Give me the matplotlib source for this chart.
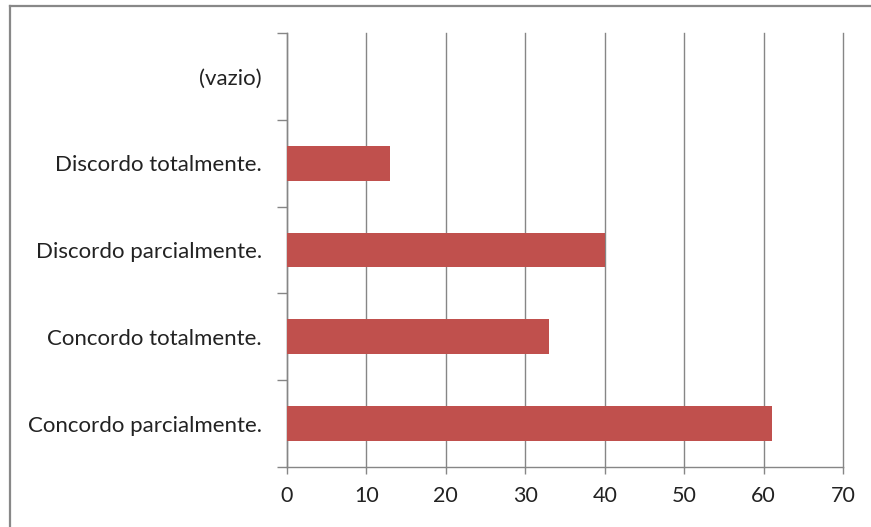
import matplotlib.pyplot as plt
from matplotlib.lines import Line2D

# data
categories = ["Concordo parcialmente.", "Concordo totalmente.",
              "Discordo parcialmente.", "Discordo totalmente.", "(vazio)"]
values = [61, 33, 40, 13, 0]
xticks = [0, 10, 20, 30, 40, 50, 60, 70]

plt.rcParams['font.family'] = ['Lato', 'DejaVu Sans']

fig = plt.figure(figsize=(8.71, 5.27), dpi=100)
ax = fig.add_axes([287 / 871, 1 - 467 / 527, (843 - 287) / 871, (467 - 33) / 527])

pos = list(range(len(categories)))
ax.barh(pos, values, height=0.4, color='#C0504D', zorder=3)

ax.set_xlim(0, 70)
ax.set_ylim(-0.5, len(categories) - 0.5)
ax.set_xticks(xticks)
ax.set_xticklabels([str(t) for t in xticks], fontsize=15.5, color='#222222')
ax.set_yticks(pos)
ax.set_yticklabels(categories, fontsize=16, color='#222222')
ax.set_yticks([p - 0.5 for p in pos] + [len(categories) - 0.5], minor=True)

ax.tick_params(axis='y', which='major', length=0, pad=18)
ax.tick_params(axis='y', which='minor', length=7, color='#868686', width=1)
ax.tick_params(axis='x', length=5, color='#868686', width=1, pad=9)

ax.grid(axis='x', color='#868686', linewidth=1, zorder=0)
for gl in ax.get_xgridlines():
    gl.set_clip_on(False)
for s in ['top', 'right']:
    ax.spines[s].set_visible(False)
for s in ['left', 'bottom']:
    ax.spines[s].set_color('#868686')
    ax.spines[s].set_linewidth(1)

# outer chart border (only top and left are visible in the crop)
fig.add_artist(Line2D([10 / 871, 1], [1 - 6 / 527, 1 - 6 / 527], color='#888888', linewidth=1.6))
fig.add_artist(Line2D([10 / 871, 10 / 871], [1 - 6 / 527, 0], color='#888888', linewidth=1.6))

fig.savefig('out.png', dpi=100)
